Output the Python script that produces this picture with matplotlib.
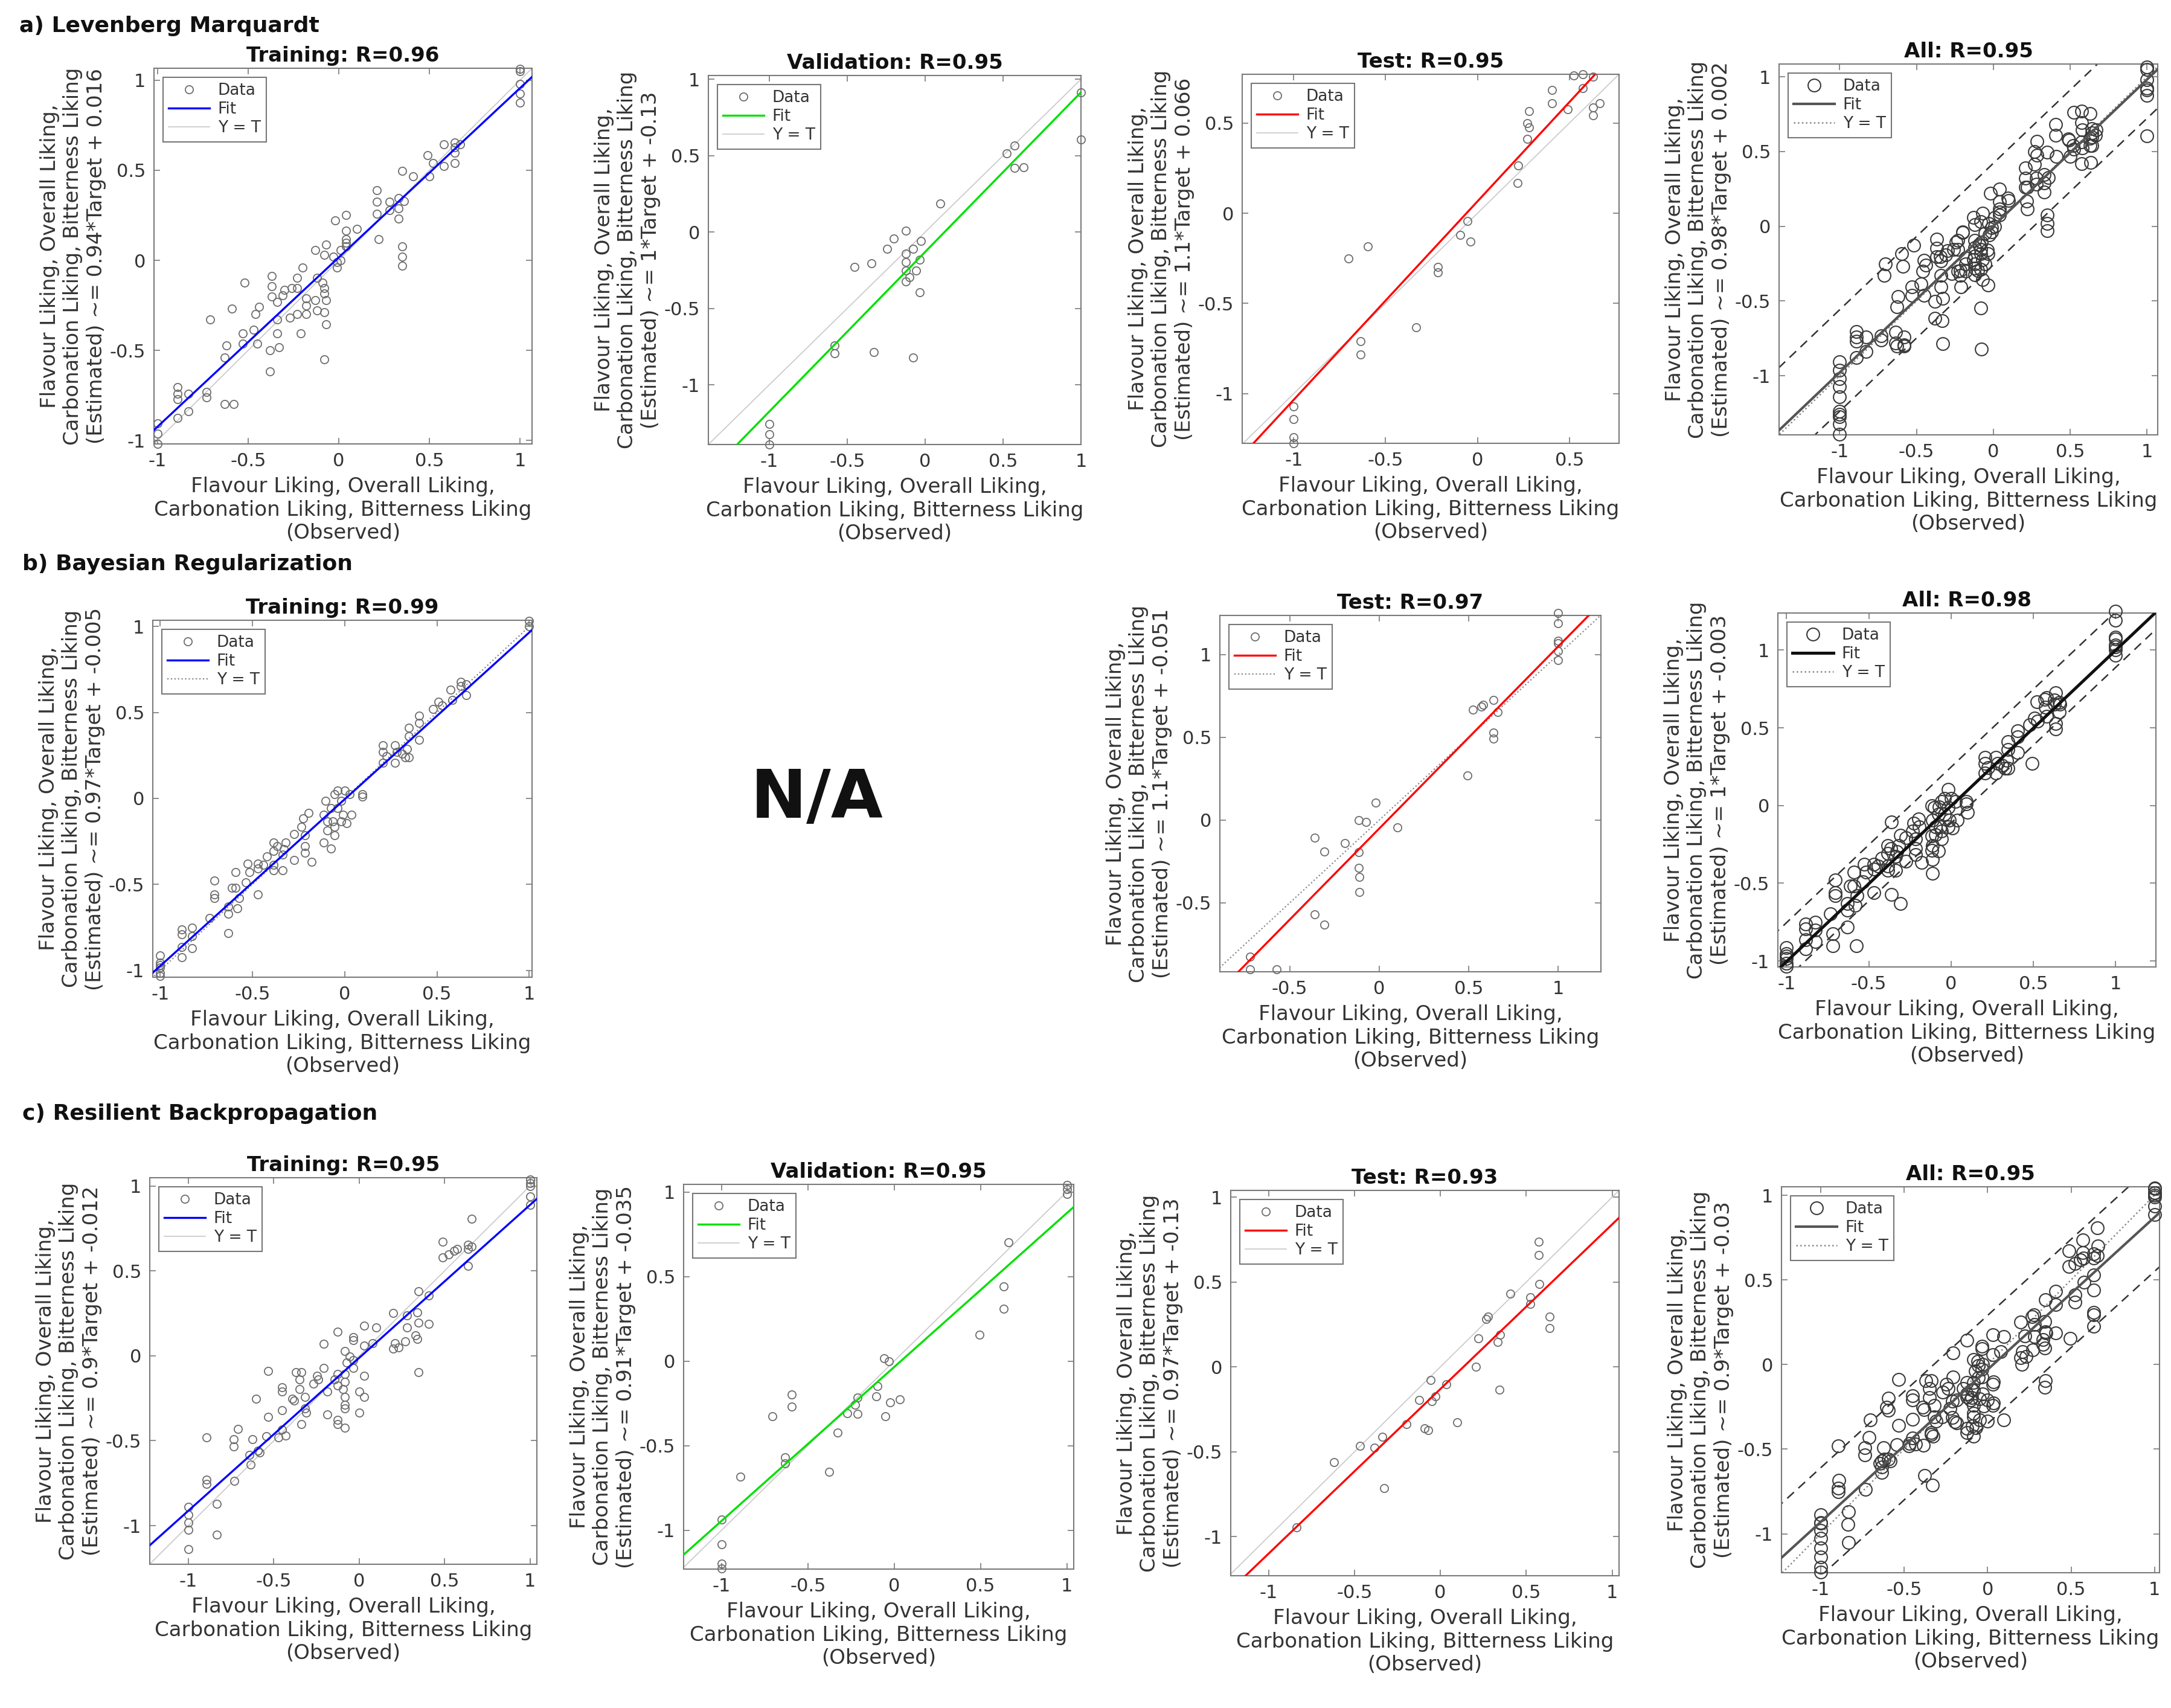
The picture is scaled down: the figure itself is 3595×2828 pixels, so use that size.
import matplotlib
matplotlib.use('Agg')
import matplotlib.pyplot as plt
from matplotlib.ticker import MultipleLocator, FuncFormatter
import numpy as np

plt.rcParams['font.family'] = ['DejaVu Sans']
plt.rcParams['axes.unicode_minus'] = False

# ---------------- data (observed, estimated) ----------------
LM_TRAIN = [
    (1, 1.065), (1, 1.05), (1, 0.98), (1, 0.925), (1, 0.875),
    (0.58, 0.645), (0.64, 0.655), (0.64, 0.626), (0.64, 0.597), (0.64, 0.54), (0.67, 0.645),
    (0.49, 0.584), (0.52, 0.54), (0.58, 0.524), (0.50, 0.466), (0.35, 0.495), (0.41, 0.466),
    (0.21, 0.389), (0.21, 0.324), (0.21, 0.26), (0.22, 0.116), (0.28, 0.324), (0.28, 0.28),
    (0.33, 0.347), (0.33, 0.289), (0.33, 0.231), (0.35, 0.077), (0.35, 0.019), (0.35, -0.029), (0.36, 0.328),
    (-0.02, 0.222), (0.04, 0.25), (0.04, 0.164), (0.10, 0.173), (0.04, 0.116),
    (-0.13, 0.058), (-0.07, 0.087), (-0.08, 0.029), (-0.03, 0.019), (0.01, 0.058),
    (-0.01, -0.01), (-0.01, -0.039), (0.01, 0.0), (0.04, 0.077), (0.04, 0.096),
    (-0.12, -0.096), (-0.09, -0.125), (-0.08, -0.154), (-0.08, -0.183), (-0.07, -0.222),
    (-0.07, -0.356), (-0.13, -0.222), (-0.12, -0.279), (-0.08, -0.289), (-0.08, -0.549),
    (-0.20, -0.039), (-0.23, -0.096), (-0.23, -0.154), (-0.18, -0.212), (-0.18, -0.25),
    (-0.18, -0.299), (-0.21, -0.405), (-0.23, -0.299), (-0.26, -0.154), (-0.27, -0.318),
    (-0.37, -0.087), (-0.37, -0.145), (-0.37, -0.202), (-0.34, -0.231), (-0.34, -0.328),
    (-0.34, -0.405), (-0.33, -0.482), (-0.38, -0.501), (-0.38, -0.617), (-0.30, -0.164), (-0.31, -0.193),
    (-0.44, -0.26), (-0.46, -0.299), (-0.45, -0.462), (-0.47, -0.385), (-0.52, -0.125),
    (-0.53, -0.405), (-0.53, -0.462),
    (-0.59, -0.27), (-0.62, -0.472), (-0.63, -0.54), (-0.71, -0.328), (-0.63, -0.8), (-0.58, -0.8),
    (-0.73, -0.732), (-0.73, -0.761), (-0.83, -0.742), (-0.83, -0.838),
    (-0.89, -0.703), (-0.89, -0.742), (-0.89, -0.771), (-0.89, -0.877),
    (-1, -0.906), (-1, -0.963), (-1, -1.02),
]
LM_VAL = [
    (1.0, 0.914), (1.0, 0.606), (0.522, 0.516), (0.573, 0.565), (0.573, 0.419), (0.633, 0.426),
    (0.096, 0.189), (-0.122, 0.009), (-0.2, -0.043), (-0.244, -0.108), (-0.078, -0.108),
    (-0.027, -0.059), (-0.122, -0.142), (-0.122, -0.198), (-0.033, -0.182), (-0.122, -0.25),
    (-0.056, -0.25), (-0.1, -0.295), (-0.122, -0.324), (-0.033, -0.392), (-0.344, -0.205),
    (-0.451, -0.227), (-0.582, -0.741), (-0.582, -0.795), (-0.329, -0.784), (-0.078, -0.82),
    (-1.0, -1.257), (-1.0, -1.324), (-1.0, -1.39),
]
LM_TEST = [
    (0.523, 0.763), (0.573, 0.769), (0.63, 0.756), (0.573, 0.692), (0.406, 0.683), (0.406, 0.61),
    (0.491, 0.575), (0.63, 0.587), (0.63, 0.542), (0.664, 0.61), (0.282, 0.567), (0.269, 0.5),
    (0.282, 0.477), (0.269, 0.413), (0.222, 0.263), (0.218, 0.167), (-0.056, -0.044),
    (-0.094, -0.121), (-0.038, -0.158), (-0.214, -0.298), (-0.214, -0.327), (-0.596, -0.183),
    (-0.703, -0.25), (-0.333, -0.631), (-0.637, -0.708), (-0.637, -0.783),
    (-1.0, -1.071), (-1.0, -1.14), (-1.0, -1.24), (-1.0, -1.275),
]
BR_TRAIN = [
    (1.0, 1.032), (1.0, 1.0),
    (0.63, 0.677), (0.63, 0.653), (0.658, 0.602), (0.573, 0.632), (0.583, 0.572), (0.526, 0.541),
    (0.479, 0.521), (0.508, 0.562), (0.658, 0.663),
    (0.404, 0.481), (0.404, 0.44), (0.348, 0.41), (0.404, 0.339), (0.348, 0.36), (0.338, 0.289),
    (0.348, 0.238), (0.273, 0.309), (0.282, 0.269), (0.273, 0.208), (0.207, 0.309), (0.207, 0.269),
    (0.207, 0.208), (0.226, 0.244), (0.329, 0.238), (0.31, 0.259),
    (0.094, 0.026), (0.094, 0.01), (0.028, 0.026), (0.038, -0.095), (0.0, 0.046), (-0.038, 0.046),
    (-0.056, 0.026), (-0.019, -0.014), (-0.038, -0.055), (-0.009, -0.095), (-0.066, -0.135),
    (-0.019, -0.135), (-0.056, -0.166), (-0.094, -0.135), (-0.113, -0.095), (-0.103, -0.014),
    (-0.075, -0.055), (-0.094, -0.186), (-0.056, -0.216), (0.009, -0.145),
    (-0.075, -0.293), (-0.113, -0.257), (-0.197, -0.085), (-0.226, -0.115), (-0.235, -0.166),
    (-0.216, -0.216), (-0.216, -0.277), (-0.216, -0.317), (-0.179, -0.368), (-0.273, -0.206),
    (-0.273, -0.358), (-0.32, -0.257), (-0.329, -0.297), (-0.367, -0.277), (-0.385, -0.307),
    (-0.338, -0.327), (-0.385, -0.388), (-0.338, -0.418), (-0.385, -0.418), (-0.385, -0.257),
    (-0.423, -0.337), (-0.442, -0.388), (-0.47, -0.378), (-0.47, -0.408), (-0.526, -0.378),
    (-0.517, -0.428), (-0.536, -0.489), (-0.47, -0.56), (-0.592, -0.428), (-0.592, -0.519),
    (-0.611, -0.519), (-0.573, -0.58), (-0.583, -0.64), (-0.63, -0.63), (-0.63, -0.671), (-0.63, -0.782),
    (-0.705, -0.479), (-0.705, -0.56), (-0.705, -0.58), (-0.733, -0.697), (-0.883, -0.762),
    (-0.883, -0.792), (-0.883, -0.863), (-0.883, -0.923), (-0.827, -0.752), (-0.827, -0.802),
    (-0.827, -0.873),
    (-1, -0.913), (-1, -0.954), (-1, -0.984), (-1, -1.014), (-1, -1.034), (-1, -0.97),
]
BR_TEST = [
    (1.0, 1.249), (1.0, 1.19), (1.0, 1.082), (1.0, 1.07), (1.0, 1.019), (1.0, 0.967),
    (0.638, 0.726), (0.58, 0.695), (0.571, 0.684), (0.522, 0.667), (0.662, 0.653),
    (0.638, 0.527), (0.638, 0.492), (0.493, 0.27), (-0.019, 0.105), (-0.116, 0.0),
    (-0.074, -0.01), (0.1, -0.044), (-0.362, -0.105), (-0.306, -0.19), (-0.193, -0.138),
    (-0.116, -0.195), (-0.116, -0.289), (-0.112, -0.345), (-0.112, -0.435), (-0.362, -0.571),
    (-0.306, -0.63), (-0.72, -0.826), (-0.72, -0.902), (-0.574, -0.902),
]
RP_TRAIN = [
    (1.0, 1.039), (1.0, 1.016), (1.0, 1.0), (1.0, 0.937), (1.0, 0.887),
    (0.657, 0.807), (0.488, 0.671), (0.488, 0.578), (0.524, 0.596),
    (0.575, 0.63), (0.636, 0.653), (0.636, 0.63), (0.657, 0.642), (0.636, 0.528), (0.555, 0.619),
    (0.346, 0.381), (0.407, 0.354), (0.199, 0.252), (0.28, 0.238), (0.341, 0.256), (0.346, 0.195),
    (0.407, 0.188), (0.28, 0.166), (0.331, 0.12), (0.341, 0.098), (0.27, 0.086), (0.209, 0.075),
    (0.199, 0.041), (0.23, 0.048), (0.346, -0.095),
    (0.03, 0.177), (0.098, 0.166), (-0.035, 0.109), (-0.035, 0.093), (0.03, 0.059), (0.077, 0.075),
    (-0.085, 0.029), (-0.055, -0.005), (-0.035, -0.027), (-0.035, -0.073), (-0.075, -0.039),
    (0.03, -0.118), (0.03, -0.243), (0.0, -0.209), (0.0, -0.333), (-0.085, -0.107),
    (-0.126, 0.143), (-0.207, 0.07), (-0.207, -0.073), (-0.126, -0.107), (-0.146, -0.141),
    (-0.126, -0.175), (-0.085, -0.152), (-0.096, -0.197), (-0.085, -0.243), (-0.085, -0.288),
    (-0.085, -0.311), (-0.085, -0.424), (-0.126, -0.401), (-0.126, -0.379), (-0.187, -0.209),
    (-0.187, -0.345), (-0.268, -0.163), (-0.248, -0.118), (-0.238, -0.141),
    (-0.37, -0.095), (-0.339, -0.095), (-0.35, -0.141), (-0.35, -0.197), (-0.319, -0.243),
    (-0.319, -0.311), (-0.339, -0.401), (-0.38, -0.265), (-0.309, -0.333), (-0.39, -0.254),
    (-0.451, -0.209), (-0.451, -0.186), (-0.451, -0.322), (-0.533, -0.088), (-0.604, -0.254),
    (-0.533, -0.361), (-0.451, -0.435), (-0.431, -0.469), (-0.472, -0.481),
    (-0.543, -0.474), (-0.624, -0.492), (-0.709, -0.431), (-0.736, -0.492), (-0.736, -0.533),
    (-0.583, -0.571), (-0.593, -0.56), (-0.634, -0.639), (-0.644, -0.583), (-0.894, -0.481),
    (-0.732, -0.737), (-0.894, -0.73), (-0.894, -0.753), (-0.833, -0.871), (-0.833, -1.052),
    (-1.0, -0.889), (-1.0, -0.934), (-1.0, -0.98), (-1.0, -1.025), (-1.0, -1.138),
]
RP_VAL = [
    (1.0, 1.043), (1.0, 1.016), (1.0, 0.989), (0.662, 0.701), (0.634, 0.441), (0.634, 0.308),
    (0.493, 0.155), (-0.06, 0.018), (-0.03, 0.0), (-0.097, -0.148), (-0.103, -0.21),
    (-0.022, -0.244), (0.034, -0.228), (-0.05, -0.326), (-0.211, -0.217), (-0.227, -0.258),
    (-0.211, -0.313), (-0.272, -0.308), (-0.328, -0.422), (-0.378, -0.655), (-0.594, -0.199),
    (-0.594, -0.269), (-0.704, -0.326), (-0.634, -0.571), (-0.634, -0.605), (-0.891, -0.685),
    (-1.0, -0.936), (-1.0, -1.084), (-1.0, -1.199), (-1.0, -1.225),
]
RP_TEST = [
    (0.572, 0.737), (0.572, 0.66), (0.576, 0.488), (0.408, 0.431), (0.525, 0.41), (0.525, 0.37),
    (0.636, 0.295), (0.636, 0.227), (0.279, 0.295), (0.267, 0.283), (0.222, 0.17), (0.333, 0.147),
    (0.349, 0.188), (0.206, 0.0), (0.343, -0.134), (-0.057, -0.077), (0.036, -0.102),
    (-0.03, -0.175), (-0.05, -0.202), (-0.125, -0.193), (0.097, -0.327), (-0.198, -0.338),
    (-0.091, -0.363), (-0.071, -0.374), (-0.339, -0.413), (-0.384, -0.476), (-0.469, -0.465),
    (-0.62, -0.56), (-0.329, -0.714), (-0.838, -0.946),
]

# regression summaries: R, slope, intercept
R_VALUES = {
    'LM': [0.96, 0.95, 0.95, 0.95],
    'BR': [0.99, None, 0.97, 0.98],
    'RP': [0.95, 0.95, 0.93, 0.95],
}
SLOPES = {
    'LM': [0.94, 1.045, 1.1, 0.98],
    'BR': [0.97, None, 1.1, 1.0],
    'RP': [0.9, 0.91, 0.97, 0.9],
}
INTERCEPTS = {
    'LM': [0.016, -0.13, 0.066, 0.002],
    'BR': [-0.005, None, -0.051, -0.003],
    'RP': [-0.012, -0.035, -0.13, -0.03],
}
# offsets of the dashed bound lines in the "All" panels (upper, lower)
BOUNDS = {'LM': (0.42, -0.26), 'BR': (0.25, -0.11), 'RP': (0.32, -0.32)}

PANEL_NAMES = ['Training', 'Validation', 'Test', 'All']
ROW_TITLES = ['a) Levenberg Marquardt', 'b) Bayesian Regularization', 'c) Resilient Backpropagation']
XLABEL = 'Flavour Liking, Overall Liking,\nCarbonation Liking, Bitterness Liking\n(Observed)'
YLABEL_HEAD = 'Flavour Liking, Overall Liking,\nCarbonation Liking, Bitterness Liking\n(Estimated) ~= '

DATA = {
    'LM': [LM_TRAIN, LM_VAL, LM_TEST, LM_TRAIN + LM_VAL + LM_TEST],
    'BR': [BR_TRAIN, None, BR_TEST, BR_TRAIN + BR_TEST],
    'RP': [RP_TRAIN, RP_VAL, RP_TEST, RP_TRAIN + RP_VAL + RP_TEST],
}

# ---------------- layout (pixels) ----------------
W, H = 3595, 2828
fig = plt.figure(figsize=(W / 100, H / 100), dpi=100)

def box(l, r, t, b):
    return [l / W, 1 - b / H, (r - l) / W, (b - t) / H]

BOXES = {
    'LM': [(255, 881, 113, 735), (1173, 1790, 125, 736), (2057, 2681, 123, 734), (2946, 3573, 106, 720)],
    'BR': [(253, 881, 1027, 1618), None, (2020, 2651, 1019, 1609), (2944, 3570, 1015, 1601)],
    'RP': [(248, 889, 1950, 2590), (1132, 1778, 1961, 2598), (2038, 2681, 1971, 2609), (2950, 3576, 1965, 2604)],
}
LIMS = {
    'LM': [((-1.02, 1.067), (-1.02, 1.067)), ((-1.39, 1.0), (-1.39, 1.025)),
           ((-1.28, 0.77), (-1.275, 0.77)), ((-1.395, 1.07), (-1.396, 1.086))],
    'BR': [((-1.04, 1.015), (-1.04, 1.036)), None,
           ((-0.89, 1.238), (-0.916, 1.236)), ((-1.053, 1.246), (-1.038, 1.238))],
    'RP': [((-1.226, 1.04), (-1.227, 1.048)), ((-1.22, 1.04), (-1.23, 1.045)),
           ((-1.22, 1.04), (-1.23, 1.04)), ((-1.235, 1.03), (-1.23, 1.05))],
}
FIT_COLORS = ['#0000ff', '#00e000', '#ff0000']
ALL_FIT = {'LM': ('#555555', 3.0), 'BR': ('#111111', 3.6), 'RP': ('#555555', 3.0)}
YT_STYLE = {'LM': ('-', '#c8c8c8', 1.2), 'BR': (':', '#888888', 1.6), 'RP': ('-', '#c8c8c8', 1.2)}

TEXT = '#333333'
SPINE = '#7a7a7a'

fmt = FuncFormatter(lambda v, p: ('%g' % round(v, 3)))

for key in ['LM', 'BR', 'RP']:
    for i in range(4):
        if BOXES[key][i] is None:
            continue
        pts = np.array(DATA[key][i])
        obs, est = pts[:, 0], pts[:, 1]
        ax = fig.add_axes(box(*BOXES[key][i]))
        (x0, x1), (y0, y1) = LIMS[key][i]
        ax.set_xlim(x0, x1)
        ax.set_ylim(y0, y1)
        slope, icpt, r = SLOPES[key][i], INTERCEPTS[key][i], R_VALUES[key][i]
        xs = np.array([min(x0, y0) - 0.5, max(x1, y1) + 0.5])
        is_all = (i == 3)
        if is_all:
            mcol, ms, mew = '#3a3a3a', 15, 1.5
            fcol, flw = ALL_FIT[key]
            yt_ls, yt_c, yt_lw = (':', '#888888', 1.8)
        else:
            mcol, ms, mew = '#6e6e6e', 9.5, 1.3
            fcol, flw = FIT_COLORS[i], 2.4
            yt_ls, yt_c, yt_lw = YT_STYLE[key]
        hd, = ax.plot(obs, est, 'o', mfc='none', mec=mcol, ms=ms, mew=mew,
                      clip_on=False, zorder=3, label='Data')
        hf, = ax.plot(xs, slope * xs + icpt, '-', color=fcol, lw=flw, zorder=4, label='Fit')
        hy, = ax.plot(xs, xs, linestyle=yt_ls, color=yt_c, lw=yt_lw, zorder=2, label='Y = T')
        if is_all:
            up, lo = BOUNDS[key]
            ax.plot(xs, slope * xs + icpt + up, '--', color='#333333', lw=1.8, dashes=(6, 4), zorder=2)
            ax.plot(xs, slope * xs + icpt + lo, '--', color='#333333', lw=1.8, dashes=(6, 4), zorder=2)
        ax.xaxis.set_major_locator(MultipleLocator(0.5))
        ax.yaxis.set_major_locator(MultipleLocator(0.5))
        ax.xaxis.set_major_formatter(fmt)
        ax.yaxis.set_major_formatter(fmt)
        ax.tick_params(direction='in', top=True, right=True, length=7, width=1.2,
                       color=SPINE, labelsize=22, labelcolor=TEXT, pad=10)
        for s in ax.spines.values():
            s.set_color(SPINE)
            s.set_linewidth(1.5)
        ax.set_title('%s: R=%g' % (PANEL_NAMES[i], r), fontsize=24.5, fontweight='bold',
                     color='#111111', pad=8)
        ax.set_xlabel(XLABEL, fontsize=24.5, color=TEXT, labelpad=8, linespacing=1.22)
        ylabel = YLABEL_HEAD + ('%.2g*Target + %.2g' % (slope, icpt))
        ax.set_ylabel(ylabel, fontsize=24.5, color=TEXT, labelpad=4, linespacing=1.22)
        leg = ax.legend(handles=[hd, hf, hy], loc='upper left', fontsize=19,
                        fancybox=False, framealpha=1, edgecolor='#777777',
                        borderaxespad=0.55, labelspacing=0.2, handlelength=2.6,
                        handletextpad=0.5, borderpad=0.35)
        leg.get_frame().set_linewidth(1.5)
        for t in leg.get_texts():
            t.set_color(TEXT)

# row headings
fig.text(32 / W, 1 - 43 / H, ROW_TITLES[0], fontsize=26, fontweight='bold', va='center', ha='left', color='#111111')
fig.text(37 / W, 1 - 934 / H, ROW_TITLES[1], fontsize=26, fontweight='bold', va='center', ha='left', color='#111111')
fig.text(37 / W, 1 - 1844 / H, ROW_TITLES[2], fontsize=26, fontweight='bold', va='center', ha='left', color='#111111')

# missing validation panel
fig.text(1353 / W, 1 - 1323 / H, 'N/A', fontsize=80, fontweight='bold', va='center', ha='center', color='#111111')

fig.savefig('out.png', dpi=100, facecolor='white')
